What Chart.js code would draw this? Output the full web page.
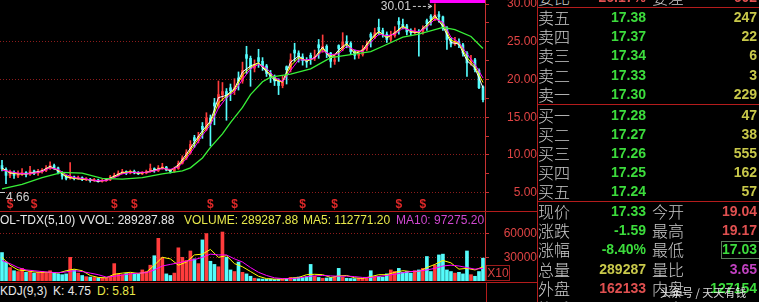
<!DOCTYPE html>
<html>
<head>
<meta charset="utf-8">
<script src="https://cdn.jsdelivr.net/npm/chart.js@4.4.1/dist/chart.umd.min.js"></script>
<style>
  html, body { margin: 0; padding: 0; background: #000; overflow: hidden; }
  #wrap { position: relative; width: 759px; height: 302px; background: #000; overflow: hidden;
          font-family: "Liberation Sans", Arial, sans-serif; }
  canvas { position: absolute; left: 0; }
  #priceCv { top: 0; }
  #volCv { top: 211px; }
  .hl { position: absolute; height: 1px; background: #b41c1c; }
  .vl { position: absolute; width: 1px; background: #b41c1c; }
  .t { position: absolute; white-space: nowrap; font-size: 12px; line-height: 14px; }
  .cn { position: absolute; white-space: nowrap; font-family: "Noto Sans CJK SC", sans-serif; font-weight: 300;
        font-size: 16px; line-height: 19px; color: #cccccc; }
  .num { position: absolute; white-space: nowrap; font-weight: bold; font-size: 14px; line-height: 19px; text-align: right; }
  #x10 { position: absolute; left: 486px; top: 265px; width: 22px; height: 14px; border: 1px solid #9c1c1c;
         color: #d84040; font-size: 12px; line-height: 14px; text-align: center; }
  #lowBox { position: absolute; left: 721px; top: 241px; width: 40px; height: 16px; border: 1px solid #5c7c5c; }
  #mark { position: absolute; left: 660px; top: 284px; font-family: "Noto Sans CJK SC", sans-serif; font-size: 11px;
          line-height: 16px; color: rgba(255,255,255,0.85); white-space: nowrap; }
</style>
</head>
<body>
<div id="wrap">
  <canvas id="priceCv" width="537" height="211"></canvas>
  <canvas id="volCv" width="537" height="70"></canvas>
</div>
<script>
// daily bars, oldest on the left
const opens = [8.6,8.1,7.3,7.6,7.2,7.5,7.7,7.4,7.9,7.6,
  7.8,7.9,8.2,8.6,8.3,7.7,7.2,6.9,7.1,6.9,
  7.0,6.8,6.8,6.6,6.7,6.5,6.6,6.7,7.1,7.3,
  7.6,7.8,7.6,7.8,7.7,7.5,7.6,7.8,8.2,7.9,
  8.3,8.4,8.0,7.8,8.2,8.9,9.6,10.3,12.3,11.9,
  13.8,13.4,14.9,16.9,16.5,18.0,18.4,18.9,18.5,20.2,
  19.8,23.3,22.8,21.5,22.9,22.4,21.8,20.8,20.3,19.8,
  19.2,21.7,21.3,23.9,23.5,23.0,22.5,23.2,22.8,24.6,
  24.2,24.4,23.5,22.4,24.5,24.1,25.0,24.8,23.7,23.2,
  23.3,24.0,26.0,25.6,26.9,26.5,26.0,25.3,25.8,27.7,
  27.3,27.1,26.3,26.2,26.4,26.2,27.8,28.4,28.0,28.6,
  28.3,26.8,25.3,24.7,25.0,24.6,23.5,22.2,22.6,21.2,
  19.04];
const closes = [8.2,7.3,7.7,7.3,7.5,7.7,7.4,7.9,7.6,7.8,
  7.9,8.2,8.6,8.3,7.7,7.2,6.9,7.1,6.9,7.0,
  6.8,6.8,6.6,6.7,6.5,6.6,6.7,7.1,7.3,7.6,
  7.8,7.6,7.8,7.7,7.5,7.6,7.8,8.2,7.9,8.3,
  8.4,8.0,7.8,8.2,8.9,9.6,10.3,11.4,11.9,12.5,
  13.4,14.9,14.2,16.5,18.0,18.4,17.6,18.5,18.9,19.8,
  21.2,22.8,21.5,21.9,22.4,21.8,20.8,20.3,19.8,19.2,
  19.6,21.3,22.6,23.5,23.0,22.5,22.3,22.8,23.0,24.2,
  24.4,23.5,22.4,22.6,24.1,25.0,24.8,23.7,23.2,23.3,
  24.0,24.5,25.6,26.2,26.5,26.0,25.3,25.8,26.3,27.3,
  27.1,26.3,26.2,26.4,26.2,26.7,27.4,28.0,28.6,28.3,
  26.8,25.3,24.7,25.0,24.6,23.5,22.2,22.6,21.3,18.92,
  17.33];
const highs = [9.3,8.3,8.0,7.9,7.9,8.2,7.8,8.5,8.0,8.1,
  8.2,8.6,9.1,8.8,8.4,7.8,7.3,9.0,7.2,7.2,
  7.1,7.0,6.9,6.9,6.8,6.8,6.9,7.3,7.6,7.9,
  8.1,7.9,8.0,8.0,7.8,7.8,8.0,8.8,8.3,8.6,
  8.9,8.5,8.1,8.4,9.2,9.9,10.7,11.9,12.6,13.0,
  14.3,15.6,15.3,17.5,19.8,19.6,18.8,19.4,20.1,21.0,
  22.3,24.4,23.1,22.6,24.0,22.9,22.0,21.2,20.6,20.1,
  20.5,21.8,23.4,24.8,23.8,23.4,22.9,23.5,23.9,25.3,
  25.9,24.6,23.6,23.2,24.6,26.2,25.8,25.0,23.9,23.8,
  24.5,25.1,26.2,26.8,28.0,26.8,26.3,26.4,27.0,28.2,
  28.0,27.3,26.7,26.8,26.6,27.1,28.0,28.6,30.01,29.0,
  28.4,27.0,25.5,25.6,25.4,24.8,23.7,23.2,22.8,21.4,
  19.17];
const lows = [7.9,6.2,7.0,6.9,7.0,7.3,7.1,7.3,7.4,7.3,
  7.6,7.8,8.1,8.1,7.5,6.8,6.7,6.8,6.7,6.8,
  6.6,6.6,6.4,6.5,6.4,6.4,6.5,6.6,7.0,7.2,
  7.5,7.4,7.5,7.5,7.4,7.4,7.5,7.7,7.7,7.8,
  8.1,7.9,7.6,7.7,8.1,8.8,9.4,10.1,11.0,11.6,
  12.2,13.2,11.2,14.0,16.2,17.2,14.6,17.2,18.0,18.6,
  19.5,20.8,19.1,21.0,21.6,21.2,20.4,19.6,19.2,18.0,
  18.9,19.4,21.0,22.4,22.3,21.9,21.6,22.0,22.5,22.8,
  23.6,22.9,21.6,22.0,22.4,23.8,24.2,23.3,22.7,22.8,
  23.1,23.8,24.3,25.4,25.9,25.6,24.9,25.0,25.6,26.0,
  26.7,25.9,25.8,26.0,23.1,26.0,26.5,27.2,27.8,27.6,
  26.5,24.0,24.3,24.5,24.2,23.1,20.4,21.9,21.0,18.8,
  17.03];

// short moving averages, read on every second bar
const maWhite = [8.3,7.6,7.5,7.5,7.7,7.9,8.5,7.9,7.1,6.9, 6.8,6.7,6.5,6.7,7.2,7.7,7.7,7.6,7.7,8.0,
  8.3,7.9,8.7,10.1,11.7,13.2,14.5,17.6,17.9,18.8, 21.0,21.8,22.2,21.0,19.9,19.7,22.3,23.1,22.4,22.9,
  24.3,22.7,23.9,24.8,23.4,23.9,25.4,26.4,25.5,26.2, 27.1,26.3,26.2,27.3,28.5,27.0,24.9,24.7,22.5,21.5, 18.9];
const maYellow = [8.1,7.7,7.5,7.5,7.6,7.8,8.4,8.0,7.2,6.9, 6.8,6.7,6.6,6.6,7.1,7.6,7.8,7.6,7.7,7.9,
  8.3,8.0,8.5,9.8,11.4,12.9,14.3,16.9,17.8,18.6, 20.6,21.6,22.2,21.2,20.1,19.6,21.8,22.9,22.5,22.8,
  24.1,23.0,23.6,24.7,23.6,23.8,25.2,26.3,25.6,26.1, 27.0,26.4,26.2,27.1,28.3,27.3,25.2,24.8,22.9,21.7, 19.6];
const maPurple = [8.0,7.8,7.6,7.5,7.6,7.8,8.3,8.1,7.4,7.0, 6.9,6.7,6.6,6.6,7.0,7.5,7.7,7.7,7.7,7.9,
  8.2,8.1,8.4,9.5,11.0,12.6,14.0,16.2,17.6,18.4, 20.0,21.4,22.0,21.5,20.3,19.7,21.2,22.6,22.6,22.8,
  23.8,23.3,23.4,24.4,23.9,23.7,24.9,26.0,25.8,26.0, 26.8,26.5,26.3,26.9,28.0,27.6,25.6,24.9,23.4,22.0, 20.2];

// long moving average, read at these bars
const ma60Bars = [0,5,10,15,20,25,30,35,40,45,47,50,52,55,57,60,62,65,67,72,77,82,87,92,95,100,104,110,113,117,120];
const ma60 = [5.5,6.1,7.0,7.7,7.6,6.9,6.8,7.0,7.5,7.9,8.3,9.6,11.0,12.8,14.3,16.3,18.0,19.7,20.3,20.7,21.4,22.9,23.3,23.7,24.4,25.6,26.0,26.9,26.6,25.7,24.1];

// volume (x10 lots)
const volumes = [36000,24000,17000,13000,12000,16000,11000,12000,10000,11000,
  12000,10000,13000,11000,9000,8000,9000,30000,14000,10000,
  7000,5500,5000,4500,4000,3500,3800,6000,22000,9000,
  8000,9500,10000,8500,9000,14000,12000,20000,32000,54000,
  30000,9000,7000,10000,42000,30000,26000,38000,28000,22000,
  52000,60000,25000,21000,18000,62000,30000,14000,12000,24000,
  11000,9000,6000,3500,2800,2500,2200,2500,2000,2300,
  2600,3000,4500,4000,5000,4500,5500,21000,6000,4500,
  3500,3800,4200,5000,16000,5000,3500,3200,3000,3400,
  3200,4000,13000,5500,6000,5000,9000,14000,12000,16000,
  11000,12000,10000,13000,14000,16000,31000,12000,20000,33000,
  34000,14000,12000,10000,11000,9000,38000,8000,6000,12000,
  28929];
const volMa5 = [30000,20000,14000,13000,11500,11000,11000,10000,13000,15000, 13000,7000,4500,4000,8500,10000,11000,9500,11000,20000,
  30000,28000,20000,24000,33000,34000,40000,30000,32000,22000, 18000,12000,6000,3000,2400,2500,3500,4500,8000,8500,
  8000,4500,6500,7000,4000,3300,5500,8000,8000,11000, 13000,12000,12000,17000,21000,26000,23000,15000,16000,14000, 18000];
const volMa10 = [26000,22000,17000,14000,13000,12000,11000,10500,11500,13000, 12000,10000,8000,5000,6000,7500,9000,10000,10500,14000,
  19000,21000,23000,25000,27000,30000,34000,33000,33000,28000, 24000,17000,11000,7000,4000,3000,3000,3800,5500,6500,
  7000,6500,6000,6200,5500,4500,4500,5800,7000,8500, 10500,12000,12500,14000,16000,19000,20000,19000,17000,15000, 16000];

const priceTicks = [5, 10, 15, 20, 25, 30];
const priceMinorTicks = [7.5, 12.5, 17.5, 22.5, 27.5];
const volTicks = [30000, 60000];
const eventBars = [2, 8, 28, 33, 52, 58, 75, 83, 99, 105];

// order book and quote panel
const askNames = ['卖五','卖四','卖三','卖二','卖一'];
const askPrices = ['17.38','17.37','17.34','17.33','17.30'];
const askVols = ['247','22','6','3','229'];
const bidNames = ['买一','买二','买三','买四','买五'];
const bidPrices = ['17.28','17.27','17.26','17.25','17.24'];
const bidVols = ['47','38','555','162','57'];
const quoteNamesL = ['现价','涨跌','涨幅','总量','外盘'];
const quoteValsL = ['17.33','-1.59','-8.40%','289287','162133'];
const quoteNamesR = ['今开','最高','最低','量比','内盘'];
const quoteValsR = ['19.04','19.17','17.03','3.65','127154'];

const RED = '#ff3c3c', CYAN = '#54fcfc';
const GREEN_T = '#3cdc3c', YEL_T = '#c8c84a', RED_T = '#e05050', MAG_T = '#c040c0';
const days = closes.map((_, i) => i);
const evenDays = days.filter(i => i % 2 === 0);
const barColor = days.map(i => closes[i] >= opens[i] ? RED : CYAN);
const pts = (xs, ys) => xs.map((x, k) => ({ x: x, y: ys[k] }));
const FONT = '"Liberation Sans", Arial, sans-serif';

const xAxis = { type: 'linear', display: false, offset: false, min: -0.5, max: closes.length - 0.5 };

function lineSet(data, color, order, width) {
  return { type: 'line', data: data, borderColor: color, borderWidth: width || 1, pointRadius: 0, tension: 0, order: order };
}

// labels on the price pane: top strip, high / low notes, event markers
const priceNotes = {
  id: 'priceNotes',
  afterDatasetsDraw(chart) {
    const { ctx, chartArea, scales: { x, y } } = chart;
    ctx.save();
    const top = highs.indexOf(Math.max(...highs));
    const sx = x.getPixelForValue(top - 1) - 1;
    ctx.fillStyle = '#ff00ff';
    ctx.fillRect(sx, chartArea.top, chartArea.right - sx, 3);

    const hx = x.getPixelForValue(top) - 3, hy = y.getPixelForValue(highs[top]) + 2;
    ctx.strokeStyle = '#d0d0d0'; ctx.lineWidth = 1;
    ctx.setLineDash([3, 2]);
    ctx.beginPath(); ctx.moveTo(hx - 19, hy + 0.5); ctx.lineTo(hx, hy + 0.5); ctx.stroke();
    ctx.setLineDash([]);
    ctx.beginPath(); ctx.moveTo(hx - 4, hy - 2); ctx.lineTo(hx, hy + 0.5); ctx.lineTo(hx - 4, hy + 2.5); ctx.stroke();
    ctx.fillStyle = '#d0d0d0';
    ctx.font = '12px ' + FONT;
    ctx.textAlign = 'right'; ctx.textBaseline = 'middle';
    ctx.fillText(highs[top].toFixed(2), hx - 21, hy + 1);

    const lowPrice = 4.66, ly = y.getPixelForValue(lowPrice);
    ctx.fillRect(chartArea.left, Math.round(ly) - 3, 5, 1);
    ctx.textAlign = 'left';
    ctx.fillText(lowPrice.toFixed(2), chartArea.left + 6, ly + 2);

    ctx.fillStyle = '#e02828';
    ctx.font = 'bold 12px ' + FONT;
    ctx.textAlign = 'center';
    eventBars.forEach(i => ctx.fillText('$', x.getPixelForValue(i), chartArea.bottom - 6));
    ctx.restore();
  }
};

function rightAxis(min, max, ticks, labelOf, gridOf, pad) {
  return {
    position: 'right', min: min, max: max,
    afterBuildTicks: s => { s.ticks = ticks.map(v => ({ value: v })); },
    afterFit: s => { s.width = 52; s.paddingTop = 0; s.paddingBottom = 0; },
    ticks: { color: '#e04444', font: { family: FONT, size: 12 }, padding: pad, crossAlign: 'far', autoSkip: false,
             callback: labelOf },
    grid: { color: c => (c.tick && gridOf(c.tick.value)) ? '#8c1c1c' : 'rgba(0,0,0,0)',
            tickColor: '#c83232', tickLength: 4, tickBorderDash: [] },
    border: { display: true, color: '#c83232', dash: [1, 2] }
  };
}

const common = {
  responsive: false, animation: false, devicePixelRatio: 1,
  layout: { padding: 0 },
  plugins: { legend: { display: false }, tooltip: { enabled: false } }
};

new Chart(document.getElementById('priceCv'), {
  type: 'bar',
  data: {
    datasets: [
      lineSet(pts(ma60Bars, ma60), '#38f038', 0, 1.3),
      lineSet(pts(evenDays, maPurple), '#ff00ff', 1),
      lineSet(pts(evenDays, maYellow), '#ffff00', 1),
      lineSet(pts(evenDays, maWhite), '#ffffff', 1),
      { data: days.map(i => ({ x: i, y: [lows[i], highs[i]] })), backgroundColor: barColor,
        barThickness: 1, grouped: false, order: 3 },
      { data: days.map(i => ({ x: i, y: [opens[i], closes[i]] })), backgroundColor: barColor,
        barThickness: 2, grouped: false, minBarLength: 1, order: 3 }
    ]
  },
  options: Object.assign({}, common, {
    scales: {
      x: xAxis,
      y: rightAxis(2.58, 30.53, priceTicks.concat(priceMinorTicks),
        v => priceTicks.includes(v) ? v.toFixed(2) : '',
        v => priceTicks.includes(v) && v < 30, 14)
    }
  }),
  plugins: [priceNotes]
});

new Chart(document.getElementById('volCv'), {
  type: 'bar',
  data: {
    datasets: [
      lineSet(pts(evenDays, volMa10), '#ff00ff', 1),
      lineSet(pts(evenDays, volMa5), '#ffff00', 1),
      { data: days.map(i => ({ x: i, y: volumes[i] })), backgroundColor: barColor,
        barThickness: 3, grouped: false, order: 3 }
    ]
  },
  options: Object.assign({}, common, {
    scales: {
      x: xAxis,
      y: rightAxis(0, 88600, volTicks, v => String(v), () => true, 13)
    }
  })
});

// frame, captions and quote panel
const wrap = document.getElementById('wrap');
function add(cls, text, color, left, right, cy, lh) {
  const el = document.createElement('div');
  el.className = cls;
  el.textContent = text;
  if (color) el.style.color = color;
  if (left != null) el.style.left = left + 'px';
  if (right != null) el.style.right = (759 - right) + 'px';
  el.style.top = (cy - lh / 2) + 'px';
  wrap.appendChild(el);
  return el;
}
function line(cls, l, t, w, h) {
  const el = document.createElement('div');
  el.className = cls;
  el.style.left = l + 'px'; el.style.top = t + 'px';
  if (w) el.style.width = w + 'px';
  if (h) el.style.height = h + 'px';
  wrap.appendChild(el);
}
line('hl', 0, 211, 537);
line('hl', 0, 282, 537);
line('vl', 486, 282, 0, 20);
line('vl', 537, 0, 0, 302);
[7, 104, 201].forEach(t => line('hl', 537, t, 222));

const volCaption = [['OL-TDX(5,10)', '#e8e8e8', 0], ['VVOL: 289287.88', '#e8e8e8', 79],
  ['VOLUME: 289287.88', '#e8e84a', 184], ['MA5: 112771.20', '#e8e84a', 303], ['MA10: 97275.20', '#d048d0', 396]];
volCaption.forEach(c => add('t', c[0], c[1], c[2], null, 220, 14));
const kdjCaption = [['KDJ(9,3)', '#e8e8e8', 0], ['K: 4.75', '#e8e8e8', 53], ['D: 5.81', '#e8e84a', 97]];
kdjCaption.forEach(c => add('t', c[0], c[1], c[2], null, 291, 14));

const x10 = document.createElement('div'); x10.id = 'x10'; x10.textContent = 'X10'; wrap.appendChild(x10);

add('cn', '委比', null, 538, null, -3, 19);
add('num', '-26.17%', RED_T, null, 646, -3, 19);
add('cn', '委差', null, 652, null, -3, 19);
add('num', '-602', RED_T, null, 757, -3, 19);

askNames.forEach((n, k) => {
  const cy = 17.5 + 19.2 * k;
  add('cn', n, null, 538, null, cy, 19);
  add('num', askPrices[k], GREEN_T, null, 646, cy, 19);
  add('num', askVols[k], YEL_T, null, 757, cy, 19);
});
bidNames.forEach((n, k) => {
  const cy = 115 + 19.2 * k;
  add('cn', n, null, 538, null, cy, 19);
  add('num', bidPrices[k], GREEN_T, null, 646, cy, 19);
  add('num', bidVols[k], YEL_T, null, 757, cy, 19);
});
const colorL = [GREEN_T, GREEN_T, GREEN_T, YEL_T, RED_T];
const colorR = [RED_T, RED_T, GREEN_T, MAG_T, GREEN_T];
const lowBox = document.createElement('div'); lowBox.id = 'lowBox'; wrap.appendChild(lowBox);
quoteNamesL.forEach((n, k) => {
  const cy = 211 + 19.4 * k;
  add('cn', n, null, 538, null, cy, 19);
  add('num', quoteValsL[k], colorL[k], null, 646, cy, 19);
  add('cn', quoteNamesR[k], null, 652, null, cy, 19);
  add('num', quoteValsR[k], colorR[k], null, 757, cy, 19);
});
add('cn', '换手', null, 538, null, 308.5, 19);
add('cn', '股本', null, 652, null, 308.5, 19);
const mark = document.createElement('div'); mark.id = 'mark'; mark.textContent = '头条号 / 天天有钱'; wrap.appendChild(mark);
</script>
</body>
</html>
